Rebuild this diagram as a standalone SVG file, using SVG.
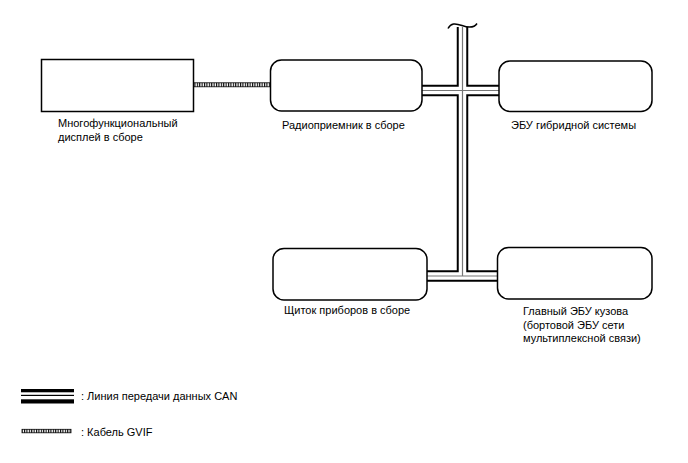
<svg xmlns="http://www.w3.org/2000/svg" width="688" height="463" viewBox="0 0 688 463">
<style>
text{font-family:"Liberation Sans",Arial,sans-serif;font-size:11px;fill:#000}
.box{fill:#fff;stroke:#000;stroke-width:1.5}
.b1{fill:none;stroke:#000;stroke-width:11.5}
.b2{fill:none;stroke:#fff;stroke-width:7.5}
.b3{fill:none;stroke:#777;stroke-width:1.2}
</style>
<defs>
<pattern id="hatch" width="2.4" height="6" patternUnits="userSpaceOnUse">
<rect width="2.4" height="6" fill="#fff"/>
<rect width="1.1" height="6" fill="#000"/>
</pattern>
</defs>
<g id="connectors">
<path class="b1" d="M462.5 27V276M422 90.5H499M427 276H497"/>
<path class="b2" d="M462.5 27V276M422 90.5H499M427 276H497"/>
<path class="b3" d="M462.5 27V276M422 90.5H499M427 276H497"/>
<path d="M448 28.5C451 23,455 23,462 25.5S474 28,477 23.5" fill="none" stroke="#000" stroke-width="1.5"/>
<rect x="193" y="82.8" width="78" height="4" fill="url(#hatch)" stroke="#000" stroke-width="0.8"/>
</g>
<g id="display">
<rect class="box" x="41.5" y="59.5" width="152" height="52"/>
<text x="58" y="127">Многофункциональный</text>
<text x="58" y="140.5">дисплей в сборе</text>
</g>
<g id="radio">
<rect class="box" x="270.5" y="60" width="151.5" height="51" rx="11"/>
<text x="282" y="129">Радиоприемник в сборе</text>
</g>
<g id="hybrid">
<rect class="box" x="499" y="61" width="153" height="50.5" rx="11"/>
<text x="511" y="129">ЭБУ гибридной системы</text>
</g>
<g id="cluster">
<rect class="box" x="273" y="248.5" width="154" height="51.5" rx="11"/>
<text x="284" y="314">Щиток приборов в сборе</text>
</g>
<g id="body">
<rect class="box" x="497.5" y="247.5" width="154.5" height="51.5" rx="11"/>
<text x="523" y="315">Главный ЭБУ кузова</text>
<text x="523" y="328.5">(бортовой ЭБУ сети</text>
<text x="523" y="342">мультиплексной связи)</text>
</g>
<g id="legend">
<rect x="21" y="389" width="53" height="14.5" fill="#000"/>
<rect x="21" y="392.3" width="53" height="7" fill="#fff"/>
<rect x="21" y="394.8" width="53" height="1.2" fill="#000"/>
<text x="81" y="400">: Линия передачи данных CAN</text>
<rect x="22" y="429.3" width="49" height="3.5" fill="url(#hatch)" stroke="#000" stroke-width="0.8"/>
<text x="81" y="436">: Кабель GVIF</text>
</g>
</svg>
